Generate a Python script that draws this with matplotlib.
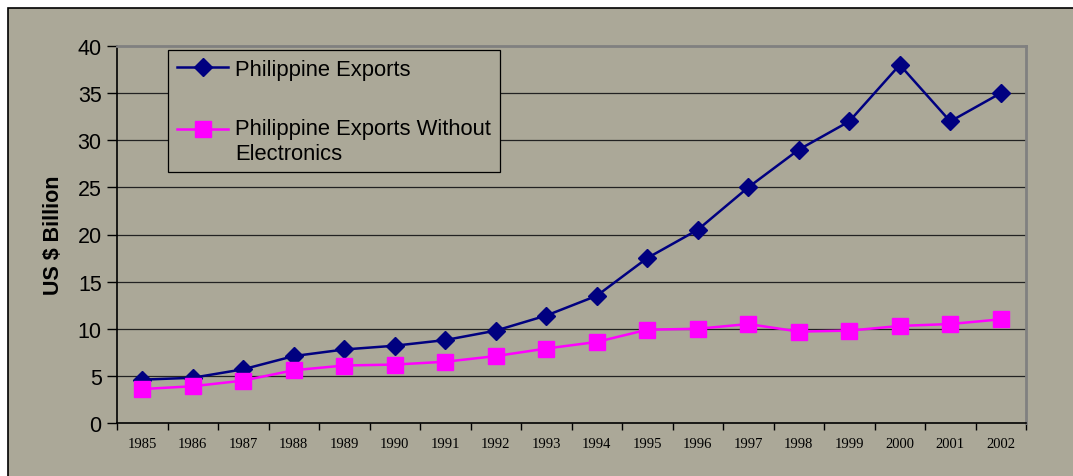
import numpy as np
import matplotlib
matplotlib.use("Agg")
import matplotlib.pyplot as plt
from matplotlib.patches import Rectangle
from matplotlib.legend_handler import HandlerLine2D
from matplotlib.transforms import Affine2D

years = [1985, 1986, 1987, 1988, 1989, 1990, 1991, 1992, 1993,
         1994, 1995, 1996, 1997, 1998, 1999, 2000, 2001, 2002]
exports = [4.6, 4.8, 5.7, 7.1, 7.8, 8.2, 8.8, 9.8, 11.4,
           13.5, 17.5, 20.5, 25.0, 29.0, 32.0, 38.0, 32.0, 35.0]
exports_no_elec = [3.6, 3.9, 4.5, 5.6, 6.1, 6.2, 6.5, 7.1, 7.9,
                   8.6, 9.9, 10.0, 10.5, 9.7, 9.8, 10.3, 10.5, 11.0]
y_ticks = [0, 5, 10, 15, 20, 25, 30, 35, 40]

bg = '#ABA898'
W, H = 1073, 477


class FirstLineHandler(HandlerLine2D):
    # put the legend handle on the first line of a two-line label
    def create_artists(self, legend, orig_handle, xdescent, ydescent,
                       width, height, fontsize, trans):
        shift = Affine2D().translate(0, 0.56 * fontsize)
        return super().create_artists(legend, orig_handle, xdescent, ydescent,
                                      width, height, fontsize, shift + trans)


fig = plt.figure(figsize=(W / 100, H / 100), dpi=100, facecolor='white')
# chart-area background with thin black border (left/top)
fig.patches.append(Rectangle((8 / W, -0.05), 1.1, (H - 9) / H + 0.05,
                             transform=fig.transFigure, facecolor=bg,
                             edgecolor='black', linewidth=1.2, zorder=-5))

ax = fig.add_axes([117 / W, (H - 424) / H, 909 / W, 377 / H])
ax.set_facecolor(bg)

x = np.arange(len(years))
l1, = ax.plot(x, exports, color='#000080', linewidth=1.8, marker='D',
              markersize=9, label='Philippine Exports', zorder=3)
l2, = ax.plot(x, exports_no_elec, color='#FF00FF', linewidth=1.8, marker='s',
              markersize=11, label='Philippine Exports Without\nElectronics', zorder=3)

ax.set_xlim(-0.5, len(years) - 0.5)
ax.set_ylim(0, 40)
ax.set_yticks(y_ticks)
ax.set_yticklabels([str(v) for v in y_ticks], fontsize=15.5, family='Liberation Sans')
ax.set_xticks(x)
ax.set_xticklabels([str(y) for y in years], fontsize=10.5, family='Liberation Serif')
ax.set_xticks(np.arange(len(years) + 1) - 0.5, minor=True)
ax.tick_params(axis='x', which='major', length=0, pad=10)
ax.tick_params(axis='x', which='minor', length=5, width=1, direction='out')
ax.tick_params(axis='y', length=7, width=1, direction='out', pad=4)

for v in y_ticks[1:-1]:
    ax.axhline(v, color='#222222', linewidth=0.9, zorder=1)

for s in ['left', 'bottom']:
    ax.spines[s].set_color('black')
    ax.spines[s].set_linewidth(1.2)
for s in ['top', 'right']:
    ax.spines[s].set_color('#808080')
    ax.spines[s].set_linewidth(2)

ax.set_ylabel('US $ Billion', fontsize=15.5, fontweight='bold',
              family='Liberation Sans', labelpad=10)

leg = ax.legend(loc='upper left', bbox_to_anchor=(0.0561, 0.989),
                prop={'family': 'Liberation Sans', 'size': 15.8},
                frameon=True, fancybox=False, handlelength=2.35,
                labelspacing=1.75, borderpad=0.4, handletextpad=0.3,
                borderaxespad=0, handler_map={l2: FirstLineHandler()})
for t in leg.get_texts():
    t.set_linespacing(1.2)
leg.get_frame().set_facecolor(bg)
leg.get_frame().set_edgecolor('black')
leg.get_frame().set_linewidth(0.9)
leg.get_frame().set_alpha(1)

fig.savefig('out.png', dpi=100, facecolor='white')
